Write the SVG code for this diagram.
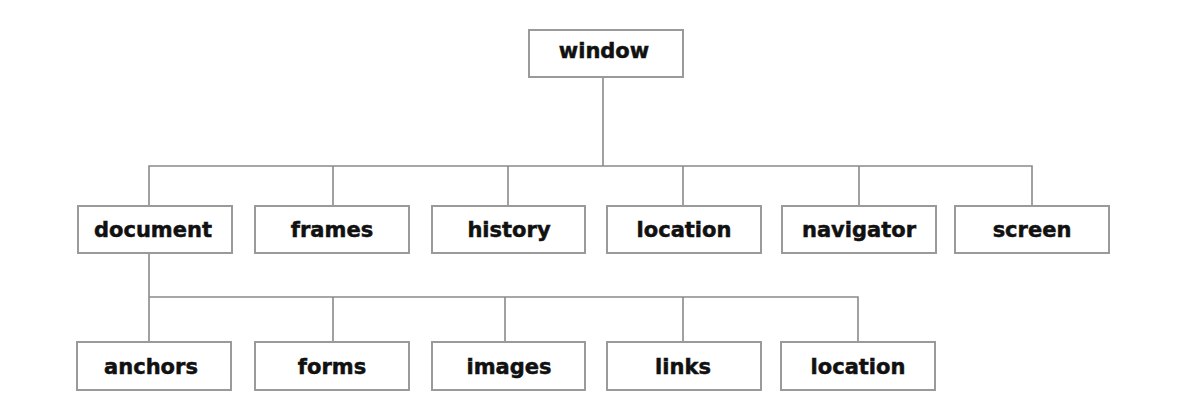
<svg xmlns="http://www.w3.org/2000/svg" width="1200" height="418" viewBox="0 0 1200 418">
  <style>
    .box { fill: #ffffff; stroke: #9a9a9a; stroke-width: 2; }
    .lbl { font-family: "DejaVu Sans", "Liberation Sans", sans-serif; font-weight: bold; font-size: 21px; fill: #111111; stroke: #111111; stroke-width: 0.5; text-anchor: middle; }
    .wire { fill: none; stroke: #8a8a8a; stroke-width: 1.6; }
  </style>
  <rect width="1200" height="418" fill="#ffffff"/>

  <!-- connectors -->
  <g id="connectors" class="wire">
    <path d="M603 77 V166"/>
    <path d="M149 206 V166 H1032 V206"/>
    <path d="M333 166 V206"/>
    <path d="M508 166 V206"/>
    <path d="M683 166 V206"/>
    <path d="M859 166 V206"/>
    <path d="M149 253 V342"/>
    <path d="M149 297 H858 V342"/>
    <path d="M333 297 V342"/>
    <path d="M505 297 V342"/>
    <path d="M683 297 V342"/>
  </g>

  <!-- root -->
  <g id="window">
    <rect class="box" x="529" y="30" width="154" height="47"/>
    <text class="lbl" x="604" y="58">window</text>
  </g>

  <!-- window children -->
  <g id="document">
    <rect class="box" x="78" y="206" width="154" height="47"/>
    <text class="lbl" x="153" y="237">document</text>
  </g>
  <g id="frames">
    <rect class="box" x="255" y="206" width="154" height="47"/>
    <text class="lbl" x="332" y="237">frames</text>
  </g>
  <g id="history">
    <rect class="box" x="432" y="206" width="153" height="47"/>
    <text class="lbl" x="509" y="237">history</text>
  </g>
  <g id="location">
    <rect class="box" x="607" y="206" width="154" height="47"/>
    <text class="lbl" x="684" y="237">location</text>
  </g>
  <g id="navigator">
    <rect class="box" x="782" y="206" width="154" height="47"/>
    <text class="lbl" x="859" y="237">navigator</text>
  </g>
  <g id="screen">
    <rect class="box" x="955" y="206" width="154" height="47"/>
    <text class="lbl" x="1032" y="237">screen</text>
  </g>

  <!-- document children -->
  <g id="anchors">
    <rect class="box" x="77" y="342" width="154" height="48"/>
    <text class="lbl" x="151" y="374">anchors</text>
  </g>
  <g id="forms">
    <rect class="box" x="255" y="342" width="154" height="48"/>
    <text class="lbl" x="332" y="374">forms</text>
  </g>
  <g id="images">
    <rect class="box" x="432" y="342" width="153" height="48"/>
    <text class="lbl" x="509" y="374">images</text>
  </g>
  <g id="links">
    <rect class="box" x="607" y="342" width="154" height="48"/>
    <text class="lbl" x="683" y="374">links</text>
  </g>
  <g id="location2">
    <rect class="box" x="781" y="342" width="154" height="48"/>
    <text class="lbl" x="858" y="374">location</text>
  </g>
</svg>
